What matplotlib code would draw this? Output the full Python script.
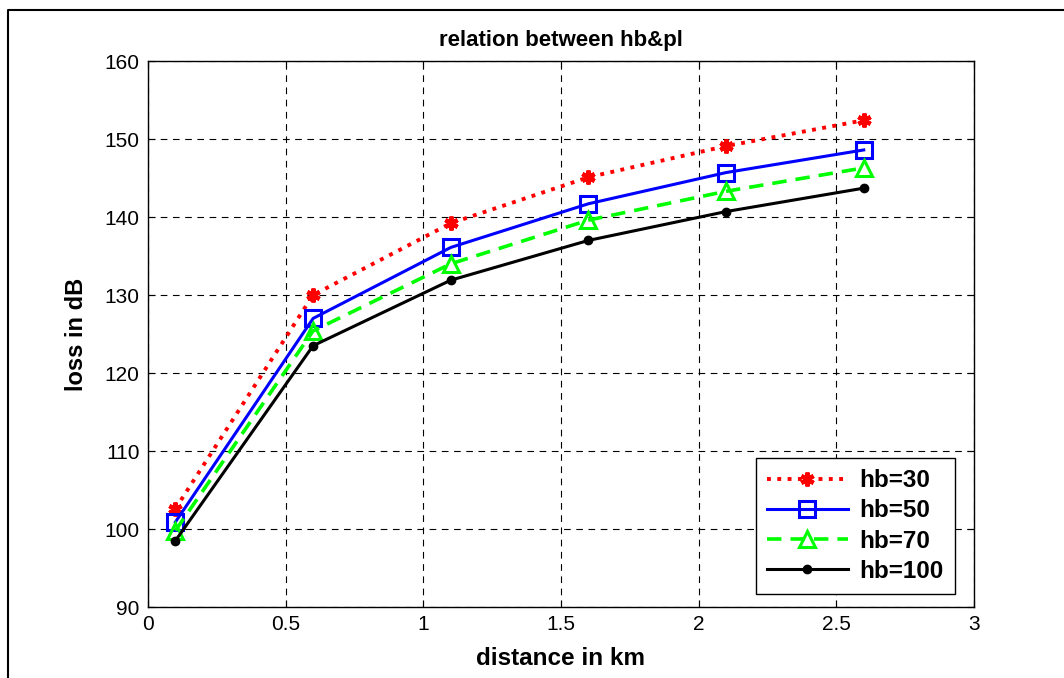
import matplotlib
matplotlib.use("Agg")
import matplotlib.pyplot as plt
from matplotlib.lines import Line2D

plt.rcParams['font.family'] = ['Liberation Sans', 'DejaVu Sans']

# distance in km
dist = [0.1, 0.6, 1.1, 1.6, 2.1, 2.6]
# path loss (dB) for each base station height
loss_hb30 = [102.6, 130.0, 139.2, 145.1, 149.1, 152.4]
loss_hb50 = [100.9, 127.0, 136.1, 141.7, 145.7, 148.6]
loss_hb70 = [99.8, 125.4, 134.0, 139.6, 143.3, 146.3]
loss_hb100 = [98.5, 123.5, 131.9, 137.0, 140.7, 143.7]
labels = ['hb=30', 'hb=50', 'hb=70', 'hb=100']

fig = plt.figure(figsize=(10.64, 6.78), dpi=100)
ax = fig.add_axes([0.139, 0.1047, 0.7763, 0.8053])

# series
ax.plot(dist, loss_hb30, color='#ff0000', ls=':', lw=2.8,
        marker=(6, 2, 0), ms=10, mew=3, label=labels[0])
ax.plot(dist, loss_hb50, color='#0000ff', ls='-', lw=2.2,
        marker='s', ms=11, mfc='none', mew=2.2, label=labels[1])
ax.plot(dist, loss_hb70, color='#00ff00', ls='--', lw=2.6, dashes=(4, 2.5),
        marker='^', ms=12, mfc='none', mew=2.2, label=labels[2])
ax.plot(dist, loss_hb100, color='black', ls='-', lw=2.2,
        marker='o', ms=6, label=labels[3])

# limits and ticks
ax.set_xlim(0, 3)
ax.set_ylim(90, 160)
ax.set_xticks([0, 0.5, 1, 1.5, 2, 2.5, 3])
ax.set_xticklabels(['0', '0.5', '1', '1.5', '2', '2.5', '3'])
ax.set_yticks(range(90, 161, 10))
ax.tick_params(direction='in', top=True, right=True, length=5,
               labelsize=15, pad=6)

# dashed grid
ax.grid(True, color='black', ls=(0, (6, 5)), lw=0.8)
for s in ax.spines.values():
    s.set_linewidth(1.0)

# labels
ax.set_title('relation between hb&pl', fontsize=16, fontweight='bold', pad=11)
ax.set_xlabel('distance in km', fontsize=17.5, fontweight='bold', labelpad=9)
ax.set_ylabel('loss in dB', fontsize=17, fontweight='bold', labelpad=12)

# legend
leg = ax.legend(loc='lower right', bbox_to_anchor=(0.977, 0.024),
                borderaxespad=0,
                prop={'size': 17.5, 'weight': 'bold'}, handlelength=3.3,
                fancybox=False, framealpha=1, edgecolor='black',
                borderpad=0.45, labelspacing=0.3, handletextpad=0.5)
leg.get_frame().set_linewidth(1.0)

# outer frame of the screenshot
fig.add_artist(Line2D([8 / 1064, 8 / 1064, 1.0], [0.0, 1 - 10 / 678, 1 - 10 / 678],
                      transform=fig.transFigure, color='black', lw=1.5))

fig.savefig('out.png', dpi=100)
